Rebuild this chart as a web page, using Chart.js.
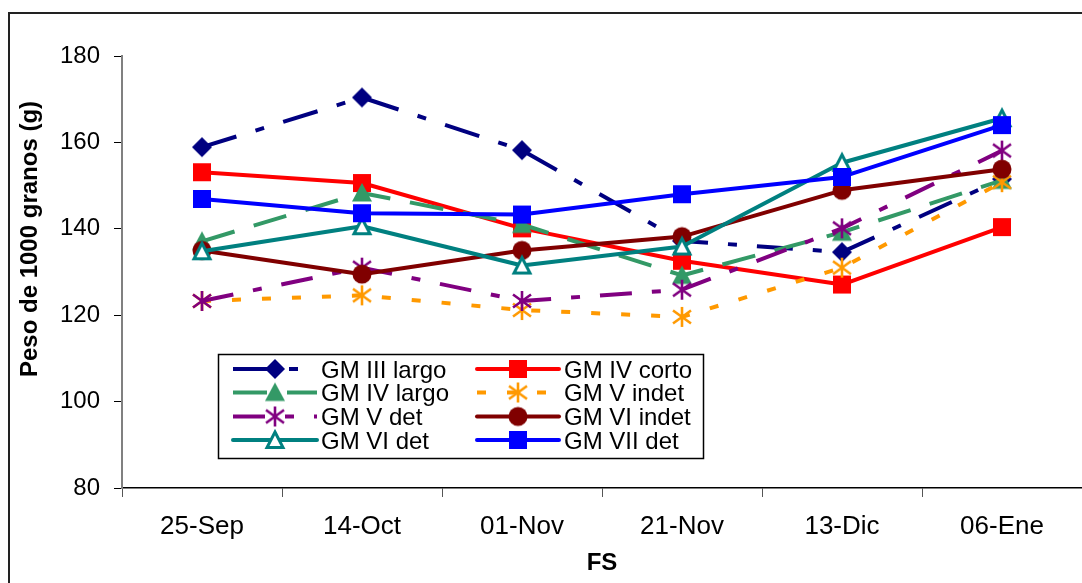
<!DOCTYPE html>
<html>
<head>
<meta charset="utf-8">
<script src="https://cdn.jsdelivr.net/npm/chart.js@4.4.0/dist/chart.umd.min.js"></script>
<style>
    html, body { margin: 0; padding: 0; background: #fff; }
    #marco { width: 1082px; height: 583px; }
</style>
</head>
<body>
<div id="marco"><canvas id="grafico" width="1082" height="583"></canvas></div>
<script>
// fechas de siembra (eje X)
const fechas = ['25-Sep', '14-Oct', '01-Nov', '21-Nov', '13-Dic', '06-Ene'];
const ticksY = [80, 100, 120, 140, 160, 180];

// peso de 1000 granos (g) por grupo de madurez
const gmIIIlargo = [158.9, 170.4, 158.2, 137.2, 134.6, 151.5];
const gmIVcorto  = [153.1, 150.6, 140.1, 132.6, 127.1, 140.4];
const gmIVlargo  = [137.1, 148.3, 141.0, 129.2, 139.2, 151.2];
const gmVindet   = [123.3, 124.6, 121.2, 119.6, 131.0, 150.8];
const gmVdet     = [123.3, 131.0, 123.3, 125.9, 140.1, 158.1];
const gmVIindet  = [135.0, 129.5, 135.0, 138.2, 148.9, 153.8];
const gmVIdet    = [134.8, 140.6, 131.5, 135.9, 155.3, 165.6];
const gmVIIdet   = [146.9, 143.6, 143.3, 148.0, 152.0, 164.0];

const FUENTE = '"Liberation Sans", Arial, sans-serif';

// dibuja un marcador estilo Excel en un canvas pequeño
function marcador(tipo, color) {
    const s = 26, c = s / 2;
    const cv = document.createElement('canvas');
    cv.width = s; cv.height = s;
    const g = cv.getContext('2d');
    g.fillStyle = color;
    g.strokeStyle = color;
    g.beginPath();
    switch (tipo) {
        case 'rombo':
            g.moveTo(c, c - 10); g.lineTo(c + 10, c); g.lineTo(c, c + 10); g.lineTo(c - 10, c);
            g.closePath(); g.fill();
            break;
        case 'cuadro':
            g.fillRect(c - 9, c - 9, 18, 18);
            break;
        case 'triangulo':
            g.moveTo(c, c - 10); g.lineTo(c + 10, c + 8.5); g.lineTo(c - 10, c + 8.5);
            g.closePath(); g.fill();
            break;
        case 'abierto':
            g.lineWidth = 3;
            g.lineJoin = 'miter';
            g.moveTo(c, c - 8); g.lineTo(c + 8, c + 7.5); g.lineTo(c - 8, c + 7.5);
            g.closePath();
            g.fillStyle = '#fff'; g.fill(); g.stroke();
            break;
        case 'circulo':
            g.arc(c, c, 9.5, 0, Math.PI * 2); g.fill();
            break;
        case 'asterisco':
            g.lineWidth = 2.6;
            g.moveTo(c, c - 10); g.lineTo(c, c + 10);
            g.moveTo(c - 9, c - 6.5); g.lineTo(c + 9, c + 6.5);
            g.moveTo(c - 9, c + 6.5); g.lineTo(c + 9, c - 6.5);
            g.stroke();
            break;
    }
    return cv;
}

const series = [
    { nombre: 'GM III largo', datos: gmIIIlargo, color: '#000080', marca: 'rombo', guion: [36, 20, 9, 20] },
    { nombre: 'GM IV corto', datos: gmIVcorto, color: '#FF0000', marca: 'cuadro', guion: [] },
    { nombre: 'GM IV largo', datos: gmIVlargo, color: '#339966', marca: 'triangulo', guion: [34, 20] },
    { nombre: 'GM V indet', datos: gmVindet, color: '#FF9900', marca: 'asterisco', guion: [9, 21] },
    { nombre: 'GM V det', datos: gmVdet, color: '#800080', marca: 'asterisco', guion: [32, 20, 9, 20] },
    { nombre: 'GM VI indet', datos: gmVIindet, color: '#800000', marca: 'circulo', guion: [] },
    { nombre: 'GM VI det', datos: gmVIdet, color: '#008080', marca: 'abierto', guion: [] },
    { nombre: 'GM VII det', datos: gmVIIdet, color: '#0000FF', marca: 'cuadro', guion: [] },
];
series.forEach(s => { s.img = marcador(s.marca, s.color); });

// fondo, marco exterior y títulos de ejes
const fondo = {
    id: 'fondo',
    beforeDraw(chart) {
        const ctx = chart.ctx;
        ctx.save();
        ctx.fillStyle = '#fff';
        ctx.fillRect(0, 0, chart.width, chart.height);
        ctx.restore();
    },
    afterDraw(chart) {
        const ctx = chart.ctx;
        ctx.save();
        ctx.strokeStyle = '#222';
        ctx.lineWidth = 2;
        ctx.strokeRect(9, 13, chart.width + 20, chart.height + 20);

        ctx.fillStyle = '#000';
        ctx.font = 'bold 24px ' + FUENTE;
        ctx.textAlign = 'center';
        ctx.textBaseline = 'middle';
        ctx.fillText('FS', (chart.chartArea.left + chart.chartArea.right) / 2, 563);
        ctx.translate(30, 239);
        ctx.rotate(-Math.PI / 2);
        ctx.fillText('Peso de 1000 granos (g)', 0, 0);
        ctx.restore();
    }
};

// leyenda en recuadro dentro del área del gráfico
const leyenda = {
    id: 'leyenda',
    afterDraw(chart) {
        const ctx = chart.ctx;
        const caja = { x: 218, y: 354, w: 485, h: 104 };
        const cols = [{ x1: 233, x2: 317, txt: 321 }, { x1: 477, x2: 559, txt: 564 }];
        const filas = [369, 392.5, 416.5, 440];
        ctx.save();
        ctx.fillStyle = '#fff';
        ctx.fillRect(caja.x, caja.y, caja.w, caja.h);
        ctx.strokeStyle = '#000';
        ctx.lineWidth = 1.5;
        ctx.strokeRect(caja.x + 0.5, caja.y + 0.5, caja.w, caja.h);

        series.forEach((s, i) => {
            const col = cols[i % 2];
            const y = filas[Math.floor(i / 2)];
            ctx.beginPath();
            ctx.strokeStyle = s.color;
            ctx.lineWidth = 4;
            ctx.lineCap = s.guion.length ? 'butt' : 'round';
            ctx.setLineDash(s.guion);
            ctx.moveTo(col.x1, y);
            ctx.lineTo(col.x2, y);
            ctx.stroke();
            ctx.setLineDash([]);
            const xm = (col.x1 + col.x2) / 2;
            ctx.drawImage(s.img, xm - s.img.width / 2, y - s.img.height / 2);

            ctx.fillStyle = '#000';
            ctx.font = '24px ' + FUENTE;
            ctx.textAlign = 'left';
            ctx.textBaseline = 'middle';
            ctx.fillText(s.nombre, col.txt, y + 2);
        });
        ctx.restore();
    }
};

new Chart(document.getElementById('grafico'), {
    type: 'line',
    data: {
        labels: fechas,
        datasets: series.map((s, i) => ({
            label: s.nombre,
            data: s.datos,
            borderColor: s.color,
            backgroundColor: s.color,
            borderWidth: 4,
            borderDash: s.guion,
            borderCapStyle: 'butt',
            borderJoinStyle: 'round',
            tension: 0,
            fill: false,
            pointStyle: s.img,
            pointRadius: 10,
            order: series.length - 1 - i
        }))
    },
    options: {
        responsive: false,
        animation: false,
        events: [],
        layout: { autoPadding: false, padding: { top: 56, right: 0, bottom: 0, left: 0 } },
        plugins: {
            legend: { display: false },
            tooltip: { enabled: false }
        },
        scales: {
            x: {
                offset: true,
                grid: { offset: true, drawOnChartArea: false, tickLength: 9, color: '#555', lineWidth: 1 },
                border: { color: '#000', width: 1.5 },
                ticks: {
                    color: '#000',
                    font: { family: FUENTE, size: 26 },
                    padding: 14,
                    maxRotation: 0,
                    autoSkip: false
                },
                afterFit(scale) {
                    scale.height = 95;
                    scale.paddingLeft = 0;
                    scale.paddingRight = 0;
                }
            },
            y: {
                min: ticksY[0],
                max: ticksY[ticksY.length - 1],
                afterBuildTicks(scale) { scale.ticks = ticksY.map(v => ({ value: v })); },
                grid: { drawOnChartArea: false, tickLength: 8, color: '#000', lineWidth: 1 },
                border: { color: '#808080', width: 2 },
                ticks: {
                    color: '#000',
                    font: { family: FUENTE, size: 24 },
                    padding: 14
                },
                afterFit(scale) {
                    scale.width = 122;
                    scale.paddingTop = 0;
                    scale.paddingBottom = 0;
                }
            }
        }
    },
    plugins: [fondo, leyenda]
});
</script>
</body>
</html>
